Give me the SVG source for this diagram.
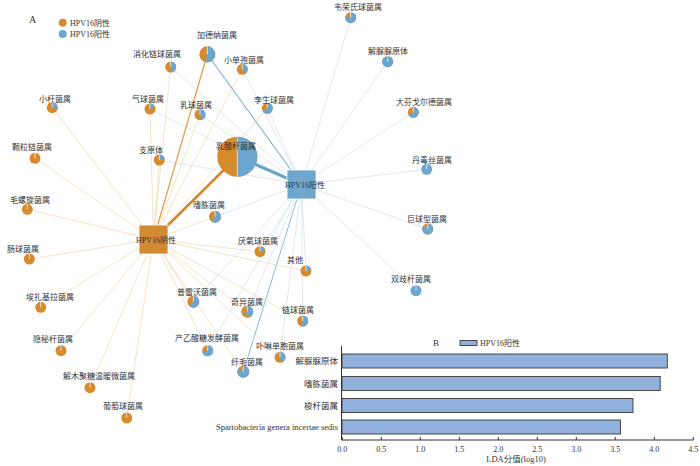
<svg xmlns="http://www.w3.org/2000/svg" width="700" height="466" viewBox="0 0 700 466">
<style>
text{font-family:"Liberation Serif","Noto Sans CJK SC",serif;font-size:8px;fill:#333}
.po{fill:#d68b2f}
.pb{fill:none;stroke:#6aa6cf}
.sep{stroke:#fff;stroke-width:0.7}
.eo{stroke:#f1dab6;stroke-width:0.8}
.eb{stroke:#d6e2e8;stroke-width:0.8}
.bar{fill:#91b1dc;stroke:#3a3a3a;stroke-width:0.9}
.ax{stroke:#333;stroke-width:1;fill:none}
.tk{font-size:8px;text-anchor:middle}
.bl{font-size:8.5px;text-anchor:end}
</style>
<rect width="700" height="466" fill="#fff"/>
<g id="legendA">
<text x="29" y="23" style="font-size:10px">A</text>
<circle cx="62.7" cy="22.7" r="4" class="po"/>
<circle cx="62.7" cy="34" r="4" fill="#6aa6cf"/>
<text x="70" y="26">HPV16阴性</text>
<text x="70" y="37">HPV16阳性</text>
</g>
<g id="connectors">
<line class="eo" x1="153.5" y1="239.5" x2="170.7" y2="67"/>
<line class="eo" x1="153.5" y1="239.5" x2="242.3" y2="69.3"/>
<line class="eo" x1="153.5" y1="239.5" x2="52.3" y2="107.7"/>
<line class="eo" x1="153.5" y1="239.5" x2="150" y2="109"/>
<line class="eo" x1="153.5" y1="239.5" x2="200" y2="114.7"/>
<line class="eo" x1="153.5" y1="239.5" x2="267.3" y2="108.3"/>
<line class="eo" x1="153.5" y1="239.5" x2="159.3" y2="160"/>
<line class="eo" x1="153.5" y1="239.5" x2="35" y2="158.3"/>
<line class="eo" x1="153.5" y1="239.5" x2="27.3" y2="209.3"/>
<line class="eo" x1="153.5" y1="239.5" x2="215" y2="216.7"/>
<line class="eo" x1="153.5" y1="239.5" x2="29.3" y2="259"/>
<line class="eo" x1="153.5" y1="239.5" x2="40.7" y2="307.3"/>
<line class="eo" x1="153.5" y1="239.5" x2="61" y2="350.7"/>
<line class="eo" x1="153.5" y1="239.5" x2="90" y2="387.7"/>
<line class="eo" x1="153.5" y1="239.5" x2="126.7" y2="418"/>
<line class="eo" x1="153.5" y1="239.5" x2="193.3" y2="301.7"/>
<line class="eo" x1="153.5" y1="239.5" x2="207.7" y2="350.7"/>
<line class="eo" x1="153.5" y1="239.5" x2="247.3" y2="311.7"/>
<line class="eo" x1="153.5" y1="239.5" x2="243.3" y2="371.7"/>
<line class="eo" x1="153.5" y1="239.5" x2="280" y2="357.3"/>
<line class="eo" x1="153.5" y1="239.5" x2="302.7" y2="321"/>
<line class="eo" x1="153.5" y1="239.5" x2="260" y2="251.7"/>
<line class="eo" x1="153.5" y1="239.5" x2="306" y2="271"/>
<line class="eb" x1="301.5" y1="184.5" x2="170.7" y2="67"/>
<line class="eb" x1="301.5" y1="184.5" x2="242.3" y2="69.3"/>
<line class="eb" x1="301.5" y1="184.5" x2="150" y2="109"/>
<line class="eb" x1="301.5" y1="184.5" x2="200" y2="114.7"/>
<line class="eb" x1="301.5" y1="184.5" x2="267.3" y2="108.3"/>
<line class="eb" x1="301.5" y1="184.5" x2="159.3" y2="160"/>
<line class="eb" x1="301.5" y1="184.5" x2="215" y2="216.7"/>
<line class="eb" x1="301.5" y1="184.5" x2="193.3" y2="301.7"/>
<line class="eb" x1="301.5" y1="184.5" x2="207.7" y2="350.7"/>
<line class="eb" x1="301.5" y1="184.5" x2="247.3" y2="311.7"/>
<line class="eb" x1="301.5" y1="184.5" x2="280" y2="357.3"/>
<line class="eb" x1="301.5" y1="184.5" x2="302.7" y2="321"/>
<line class="eb" x1="301.5" y1="184.5" x2="260" y2="251.7"/>
<line class="eb" x1="301.5" y1="184.5" x2="306" y2="271"/>
<line class="eb" x1="301.5" y1="184.5" x2="350.7" y2="17.7"/>
<line class="eb" x1="301.5" y1="184.5" x2="387.7" y2="61.7"/>
<line class="eb" x1="301.5" y1="184.5" x2="413.3" y2="112.3"/>
<line class="eb" x1="301.5" y1="184.5" x2="426.7" y2="169.3"/>
<line class="eb" x1="301.5" y1="184.5" x2="427.7" y2="229"/>
<line class="eb" x1="301.5" y1="184.5" x2="416" y2="290.7"/>
<line stroke="#e0a253" stroke-width="1.3" x1="153.5" y1="239.5" x2="207.3" y2="54.3"/>
<line stroke="#79afd3" stroke-width="1.1" x1="301.5" y1="184.5" x2="207.3" y2="54.3"/>
<line stroke="#8dbbd9" stroke-width="1" x1="301.5" y1="184.5" x2="243.3" y2="371.7"/>
<line stroke="#d4842a" stroke-width="2.6" x1="153.5" y1="239.5" x2="237.3" y2="156.7"/>
<line stroke="#6aa3c8" stroke-width="3" x1="301.5" y1="184.5" x2="237.3" y2="156.7"/>
</g>
<g id="hub-neg">
<rect x="139" y="225" width="29" height="29" fill="#d48a33" stroke="#fff" stroke-width="0.8"/>
<text x="156" y="243" text-anchor="middle">HPV16阴性</text>
</g>
<g id="hub-pos">
<rect x="287" y="170" width="29" height="29" fill="#6ea6cc" stroke="#fff" stroke-width="0.8"/>
<text x="305" y="188" text-anchor="middle">HPV16阳性</text>
</g>
<g id="n01"><circle class="po" cx="207.3" cy="54.3" r="8"/><circle class="pb" cx="207.3" cy="54.3" r="4" stroke-width="8" pathLength="100" stroke-dasharray="55 100" transform="rotate(-90 207.3 54.3)"/><line class="sep" x1="207.3" y1="54.3" x2="207.3" y2="46.3"/><text x="197" y="37.5">加德纳菌属</text></g>
<g id="n02"><circle class="po" cx="170.7" cy="67" r="5.5"/><circle class="pb" cx="170.7" cy="67" r="2.75" stroke-width="5.5" pathLength="100" stroke-dasharray="45 100" transform="rotate(-90 170.7 67)"/><line class="sep" x1="170.7" y1="67" x2="170.7" y2="61.5"/><text x="133" y="56.5">消化链球菌属</text></g>
<g id="n03"><circle class="po" cx="242.3" cy="69.3" r="5.5"/><circle class="pb" cx="242.3" cy="69.3" r="2.75" stroke-width="5.5" pathLength="100" stroke-dasharray="40 100" transform="rotate(-90 242.3 69.3)"/><line class="sep" x1="242.3" y1="69.3" x2="242.3" y2="63.8"/><text x="224" y="63">小单孢菌属</text></g>
<g id="n04"><circle class="po" cx="52.3" cy="107.7" r="5.5"/><circle class="pb" cx="52.3" cy="107.7" r="2.75" stroke-width="5.5" pathLength="100" stroke-dasharray="30 100" transform="rotate(-90 52.3 107.7)"/><line class="sep" x1="52.3" y1="107.7" x2="52.3" y2="102.2"/><text x="39" y="101.5">小杆菌属</text></g>
<g id="n05"><circle class="po" cx="150" cy="109" r="5.5"/><circle class="pb" cx="150" cy="109" r="2.75" stroke-width="5.5" pathLength="100" stroke-dasharray="15 100" transform="rotate(-90 150 109)"/><line class="sep" x1="150" y1="109" x2="150" y2="103.5"/><text x="132" y="102">气球菌属</text></g>
<g id="n06"><circle class="po" cx="200" cy="114.7" r="5.5"/><circle class="pb" cx="200" cy="114.7" r="2.75" stroke-width="5.5" pathLength="100" stroke-dasharray="45 100" transform="rotate(-90 200 114.7)"/><line class="sep" x1="200" y1="114.7" x2="200" y2="109.2"/><text x="180" y="107.5">乳球菌属</text></g>
<g id="n07"><circle class="po" cx="267.3" cy="108.3" r="5.5"/><circle class="pb" cx="267.3" cy="108.3" r="2.75" stroke-width="5.5" pathLength="100" stroke-dasharray="65 100" transform="rotate(-90 267.3 108.3)"/><line class="sep" x1="267.3" y1="108.3" x2="267.3" y2="102.8"/><text x="254" y="102.5">李生球菌属</text></g>
<g id="n08"><circle class="po" cx="159.3" cy="160" r="5.5"/><circle class="pb" cx="159.3" cy="160" r="2.75" stroke-width="5.5" pathLength="100" stroke-dasharray="25 100" transform="rotate(-90 159.3 160)"/><line class="sep" x1="159.3" y1="160" x2="159.3" y2="154.5"/><text x="139" y="153">支原体</text></g>
<g id="n09"><circle class="po" cx="237.3" cy="156.7" r="20"/><circle class="pb" cx="237.3" cy="156.7" r="10" stroke-width="20" pathLength="100" stroke-dasharray="50 100" transform="rotate(-90 237.3 156.7)"/><line class="sep" x1="237.3" y1="136.7" x2="237.3" y2="176.7" stroke-width="1"/><text x="216" y="148.5">乳酸杆菌属</text></g>
<g id="n10"><circle class="po" cx="35" cy="158.3" r="5.5"/><line class="sep" x1="35" y1="158.3" x2="35" y2="152.8"/><text x="12" y="150">颗粒链菌属</text></g>
<g id="n11"><circle class="po" cx="27.3" cy="209.3" r="5.5"/><line class="sep" x1="27.3" y1="209.3" x2="27.3" y2="203.8"/><text x="10" y="202.5">毛螺旋菌属</text></g>
<g id="n12"><circle class="po" cx="215" cy="216.7" r="6"/><circle class="pb" cx="215" cy="216.7" r="3" stroke-width="6" pathLength="100" stroke-dasharray="60 100" transform="rotate(-90 215 216.7)"/><line class="sep" x1="215" y1="216.7" x2="215" y2="210.7"/><text x="193" y="208">嗜胨菌属</text></g>
<g id="n13"><circle class="po" cx="29.3" cy="259" r="5.5"/><line class="sep" x1="29.3" y1="259" x2="29.3" y2="253.5"/><text x="7" y="252">肠球菌属</text></g>
<g id="n14"><circle class="po" cx="40.7" cy="307.3" r="5.5"/><line class="sep" x1="40.7" y1="307.3" x2="40.7" y2="301.8"/><text x="26" y="300">埃扎基拉菌属</text></g>
<g id="n15"><circle class="po" cx="61" cy="350.7" r="5.5"/><circle class="pb" cx="61" cy="350.7" r="2.75" stroke-width="5.5" pathLength="100" stroke-dasharray="7 100" transform="rotate(-90 61 350.7)"/><line class="sep" x1="61" y1="350.7" x2="61" y2="345.2"/><text x="33" y="342">隐秘杆菌属</text></g>
<g id="n16"><circle class="po" cx="90" cy="387.7" r="5.5"/><line class="sep" x1="90" y1="387.7" x2="90" y2="382.2"/><text x="63" y="378.5">解木聚糖温暖微菌属</text></g>
<g id="n17"><circle class="po" cx="126.7" cy="418" r="5.5"/><line class="sep" x1="126.7" y1="418" x2="126.7" y2="412.5"/><text x="103" y="409">葡萄球菌属</text></g>
<g id="n18"><circle class="po" cx="193.3" cy="301.7" r="6"/><circle class="pb" cx="193.3" cy="301.7" r="3" stroke-width="6" pathLength="100" stroke-dasharray="62 100" transform="rotate(-90 193.3 301.7)"/><line class="sep" x1="193.3" y1="301.7" x2="193.3" y2="295.7"/><text x="177" y="294.5">普雷沃菌属</text></g>
<g id="n19"><circle class="po" cx="207.7" cy="350.7" r="5.5"/><circle class="pb" cx="207.7" cy="350.7" r="2.75" stroke-width="5.5" pathLength="100" stroke-dasharray="72 100" transform="rotate(-90 207.7 350.7)"/><line class="sep" x1="207.7" y1="350.7" x2="207.7" y2="345.2"/><text x="175" y="341">产乙酸糖发酵菌属</text></g>
<g id="n20"><circle class="po" cx="247.3" cy="311.7" r="6"/><circle class="pb" cx="247.3" cy="311.7" r="3" stroke-width="6" pathLength="100" stroke-dasharray="50 100" transform="rotate(-90 247.3 311.7)"/><line class="sep" x1="247.3" y1="311.7" x2="247.3" y2="305.7"/><text x="231" y="304.5">奇异菌属</text></g>
<g id="n21"><circle class="po" cx="243.3" cy="371.7" r="6"/><circle class="pb" cx="243.3" cy="371.7" r="3" stroke-width="6" pathLength="100" stroke-dasharray="85 100" transform="rotate(-90 243.3 371.7)"/><line class="sep" x1="243.3" y1="371.7" x2="243.3" y2="365.7"/><text x="231" y="365">纤毛菌属</text></g>
<g id="n22"><circle class="po" cx="280" cy="357.3" r="5.5"/><circle class="pb" cx="280" cy="357.3" r="2.75" stroke-width="5.5" pathLength="100" stroke-dasharray="45 100" transform="rotate(-90 280 357.3)"/><line class="sep" x1="280" y1="357.3" x2="280" y2="351.8"/><text x="256" y="349">卟啉单胞菌属</text></g>
<g id="n23"><circle class="po" cx="302.7" cy="321" r="5.5"/><circle class="pb" cx="302.7" cy="321" r="2.75" stroke-width="5.5" pathLength="100" stroke-dasharray="55 100" transform="rotate(-90 302.7 321)"/><line class="sep" x1="302.7" y1="321" x2="302.7" y2="315.5"/><text x="282" y="312.5">链球菌属</text></g>
<g id="n24"><circle class="po" cx="260" cy="251.7" r="5.5"/><circle class="pb" cx="260" cy="251.7" r="2.75" stroke-width="5.5" pathLength="100" stroke-dasharray="20 100" transform="rotate(-90 260 251.7)"/><line class="sep" x1="260" y1="251.7" x2="260" y2="246.2"/><text x="238" y="244">厌氧球菌属</text></g>
<g id="n25"><circle class="po" cx="306" cy="271" r="5.5"/><circle class="pb" cx="306" cy="271" r="2.75" stroke-width="5.5" pathLength="100" stroke-dasharray="20 100" transform="rotate(-90 306 271)"/><line class="sep" x1="306" y1="271" x2="306" y2="265.5"/><text x="287" y="263">其他</text></g>
<g id="n26"><circle class="po" cx="350.7" cy="17.7" r="5.5"/><circle class="pb" cx="350.7" cy="17.7" r="2.75" stroke-width="5.5" pathLength="100" stroke-dasharray="80 100" transform="rotate(-90 350.7 17.7)"/><line class="sep" x1="350.7" y1="17.7" x2="350.7" y2="12.2"/><text x="334" y="10">韦荣氏球菌属</text></g>
<g id="n27"><circle class="po" cx="387.7" cy="61.7" r="5.5"/><circle class="pb" cx="387.7" cy="61.7" r="2.75" stroke-width="5.5" pathLength="100" stroke-dasharray="97 100" transform="rotate(-90 387.7 61.7)"/><line class="sep" x1="387.7" y1="61.7" x2="387.7" y2="56.2"/><text x="368" y="53.5">解脲脲原体</text></g>
<g id="n28"><circle class="po" cx="413.3" cy="112.3" r="5.5"/><circle class="pb" cx="413.3" cy="112.3" r="2.75" stroke-width="5.5" pathLength="100" stroke-dasharray="65 100" transform="rotate(-90 413.3 112.3)"/><line class="sep" x1="413.3" y1="112.3" x2="413.3" y2="106.8"/><text x="396" y="105">大芬戈尔德菌属</text></g>
<g id="n29"><circle cx="426.7" cy="169.3" r="5.5" fill="#6aa6cf"/><line class="sep" x1="426.7" y1="169.3" x2="426.7" y2="163.8"/><text x="412" y="162.5">丹毒丝菌属</text></g>
<g id="n30"><circle class="po" cx="427.7" cy="229" r="5.5"/><circle class="pb" cx="427.7" cy="229" r="2.75" stroke-width="5.5" pathLength="100" stroke-dasharray="85 100" transform="rotate(-90 427.7 229)"/><line class="sep" x1="427.7" y1="229" x2="427.7" y2="223.5"/><text x="407" y="221.5">巨球型菌属</text></g>
<g id="n31"><circle cx="416" cy="290.7" r="5.5" fill="#6aa6cf"/><line class="sep" x1="416" y1="290.7" x2="416" y2="285.2"/><text x="391" y="281.5">双歧杆菌属</text></g>
<g id="chartB">
<text x="433" y="346" style="font-size:9px">B</text>
<rect x="460" y="340.5" width="17" height="5" class="bar"/>
<text x="480" y="346">HPV16阳性</text>
<rect class="bar" x="342" y="354" width="325.3" height="14"/>
<rect class="bar" x="342" y="376.5" width="318.2" height="14"/>
<rect class="bar" x="342" y="398.5" width="291" height="14"/>
<rect class="bar" x="342" y="420" width="278.5" height="14"/>
<text class="bl" x="338" y="364">解脲脲原体</text>
<text class="bl" x="338" y="386.5">嗜胨菌属</text>
<text class="bl" x="338" y="408.5">梭杆菌属</text>
<text class="bl" x="338" y="430">Spartobacteria genera incertae sedis</text>
<path class="ax" d="M341.5 346V440H693.5"/>
<path class="ax" d="M342.3 437V440M381.3 437V440M420.3 437V440M459.3 437V440M498.3 437V440M537.3 437V440M576.3 437V440M615.3 437V440M654.3 437V440M693.3 437V440"/>
<text class="tk" x="342.3" y="452">0.0</text>
<text class="tk" x="381.3" y="452">0.5</text>
<text class="tk" x="420.3" y="452">1.0</text>
<text class="tk" x="459.3" y="452">1.5</text>
<text class="tk" x="498.3" y="452">2.0</text>
<text class="tk" x="537.3" y="452">2.5</text>
<text class="tk" x="576.3" y="452">3.0</text>
<text class="tk" x="615.3" y="452">3.5</text>
<text class="tk" x="654.3" y="452">4.0</text>
<text class="tk" x="693.3" y="452">4.5</text>
<text x="516" y="462" text-anchor="middle" style="font-size:8.5px">LDA分值(log10)</text>
</g>
</svg>
